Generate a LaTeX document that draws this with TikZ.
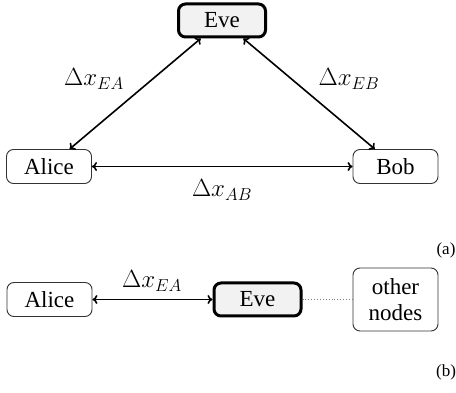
\documentclass[tikz,border=0pt]{standalone}
\usepackage{fontspec}
\setmainfont{Liberation Serif}
\usetikzlibrary{arrows.meta}
\begin{document}
\begin{tikzpicture}[x=1pt,y=1pt,
  party/.style={draw=black!80, line width=0.9pt, rounded corners=7pt, minimum width=85pt, minimum height=34pt, inner sep=2pt, font=\fontsize{23}{26}\selectfont},
  evebox/.style={party, draw=black, line width=3pt, fill=gray!10, minimum width=87pt, minimum height=33pt},
  link/.style={line width=1.6pt, {Computer Modern Rightarrow[length=5pt,width=9pt]}-{Computer Modern Rightarrow[length=5pt,width=9pt]}},
  lbl/.style={font=\fontsize{27}{30}\selectfont},
  tag/.style={font=\fontsize{17}{19}\selectfont}]
\useasboundingbox (0,0) rectangle (456,-393);
% (a)
\node[evebox] (eve) at (222,-20.5) {Eve};
\node[party] (alice) at (49,-166.5) {Alice};
\node[party] (bob) at (395.5,-166.5) {Bob};
\draw[link] (eve) -- (alice);
\draw[link] (eve) -- (bob);
\draw[link] (alice) -- (bob);
\node[lbl] (lea) at (94,-79) {$\Delta x_{EA}$};
\node[lbl] (leb) at (349,-79) {$\Delta x_{EB}$};
\node[lbl] (lab) at (222,-190) {$\Delta x_{AB}$};
\node[tag] (ta) at (446,-250) {(a)};
% (b)
\node[party] (alice2) at (49.5,-299.5) {Alice};
\node[evebox] (eve2) at (257.5,-299.5) {Eve};
\node[party, minimum height=63pt, align=center, font=\fontsize{23}{26}\selectfont] (other) at (395.5,-299.5) {other\\nodes};
\draw[link] (alice2) -- (eve2);
\draw[gray, line width=0.9pt, dotted] (eve2) -- (other);
\node[lbl] (lea2) at (152,-281) {$\Delta x_{EA}$};
\node[tag] (tb) at (446,-372) {(b)};
\end{tikzpicture}
\end{document}
